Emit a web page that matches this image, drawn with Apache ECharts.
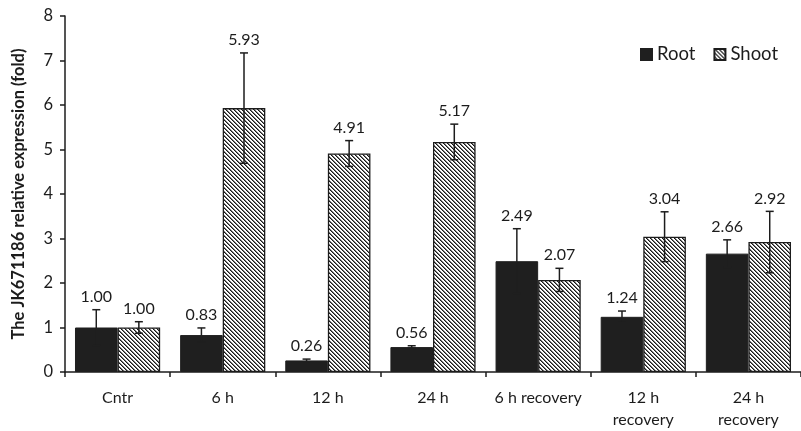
<!DOCTYPE html>
<html><head><meta charset="utf-8">
<script src="https://cdn.jsdelivr.net/npm/echarts@6/dist/echarts.min.js"></script>
<style>html,body{margin:0;padding:0;background:#fff}#c{width:801px;height:431px}</style>
</head><body><div id="c"></div>
<script>
const categories = ['Cntr', '6 h', '12 h', '24 h', '6 h recovery', '12 h\nrecovery', '24 h\nrecovery'];
const rootValues = [1.00, 0.83, 0.26, 0.56, 2.49, 1.24, 2.66];
const shootValues = [1.00, 5.93, 4.91, 5.17, 2.07, 3.04, 2.92];
const rootErrors = [0.40, 0.16, 0.03, 0.03, 0.73, 0.13, 0.31];
const shootErrors = [0.13, 1.24, 0.29, 0.40, 0.26, 0.56, 0.69];
const yTicks = [0, 1, 2, 3, 4, 5, 6, 7, 8];

const FONT = 'Lato, "Open Sans", sans-serif';
const INK = '#1c1c1c';

// hatch pattern
const pc = document.createElement('canvas');
pc.width = 4; pc.height = 4;
const pctx = pc.getContext('2d');
const img = pctx.createImageData(4, 4);
for (let y = 0; y < 4; y++) for (let x = 0; x < 4; x++) {
  const d = ((x - y) % 4 + 4) % 4;
  const v = d === 0 ? 25 : (d === 1 ? 120 : 255);
  const i = (y * 4 + x) * 4;
  img.data[i] = v; img.data[i+1] = v; img.data[i+2] = v; img.data[i+3] = 255;
}
pctx.putImageData(img, 0, 0);
const hatch = { image: pc, repeat: 'repeat' };

const GAP = 0.19;
function errData(vals, errs, s) { return vals.map((v, i) => [i, v, errs[i], s]); }

function renderErr(params, api) {
  const ci = api.value(0), v = api.value(1), e = api.value(2), s = api.value(3);
  const band = api.size([1, 0])[0];
  const bw = band * (1 - GAP) / 2;
  const c = api.coord([ci, v]);
  const x = c[0] + (s === 0 ? -bw / 2 : bw / 2);
  const yt = api.coord([ci, v + e])[1];
  const yb = api.coord([ci, v - e])[1];
  const cap = 4;
  const st = { stroke: s === 0 ? '#1f1f1f' : INK, lineWidth: 1.5 };
  return { type: 'group', children: [
    { type: 'line', shape: { x1: x, y1: yt, x2: x, y2: yb }, style: st },
    { type: 'line', shape: { x1: x - cap, y1: yt, x2: x + cap, y2: yt }, style: st },
    { type: 'line', shape: { x1: x - cap, y1: yb, x2: x + cap, y2: yb }, style: st },
    { type: 'text', x: x, y: yt - 13, style: { text: v.toFixed(2), fill: INK, font: '16px ' + FONT, align: 'center', verticalAlign: 'middle' } }
  ]};
}

const chart = echarts.init(document.getElementById('c'), null, { renderer: 'canvas' });
chart.setOption({
  animation: false,
  backgroundColor: '#fff',
  textStyle: { fontFamily: FONT },
  grid: { left: 65, top: 16, width: 745, height: 357, containLabel: false },
  legend: {
    orient: 'horizontal', left: 635, top: 40, width: 300, itemWidth: 11, itemHeight: 11, itemGap: 18,
    textStyle: { fontSize: 18.5, color: INK, fontFamily: FONT },
    data: [
      { name: 'Root', icon: 'rect' },
      { name: 'Shoot', icon: 'rect' }
    ]
  },
  xAxis: {
    type: 'category', data: categories,
    axisLine: { lineStyle: { color: INK, width: 1.5 } },
    axisTick: { show: true, length: 5, lineStyle: { color: INK, width: 1.5 }, alignWithLabel: false },
    axisLabel: { fontSize: 16, color: INK, margin: 15, lineHeight: 22, fontFamily: FONT, interval: 0 }
  },
  yAxis: {
    type: 'value', min: 0, max: 8, interval: 1,
    name: 'The JK671186 relative expression (fold)',
    nameLocation: 'middle', nameGap: 38,
    nameTextStyle: { fontSize: 16.5, fontWeight: 'bold', color: INK, fontFamily: FONT },
    axisLine: { show: true, lineStyle: { color: INK, width: 1.5 } },
    axisTick: { show: true, length: 5, lineStyle: { color: INK, width: 1.5 } },
    axisLabel: { fontSize: 16.5, color: INK, margin: 12, fontFamily: FONT,
      formatter: v => yTicks.includes(v) ? String(v) : '' },
    splitLine: { show: false }
  },
  series: [
    { name: 'Root', type: 'bar', data: rootValues, barGap: '0%', barCategoryGap: (GAP * 100) + '%',
      itemStyle: { color: '#1f1f1f', borderColor: '#1f1f1f', borderWidth: 1 } },
    { name: 'Shoot', type: 'bar', data: shootValues, barGap: '0%', barCategoryGap: (GAP * 100) + '%',
      itemStyle: { color: hatch, borderColor: INK, borderWidth: 1.3 } },
    { type: 'custom', renderItem: renderErr, data: errData(rootValues, rootErrors, 0), z: 5,
      encode: { x: 0, y: 1 }, silent: true },
    { type: 'custom', renderItem: renderErr, data: errData(shootValues, shootErrors, 1), z: 5,
      encode: { x: 0, y: 1 }, silent: true }
  ]
});
</script></body></html>
